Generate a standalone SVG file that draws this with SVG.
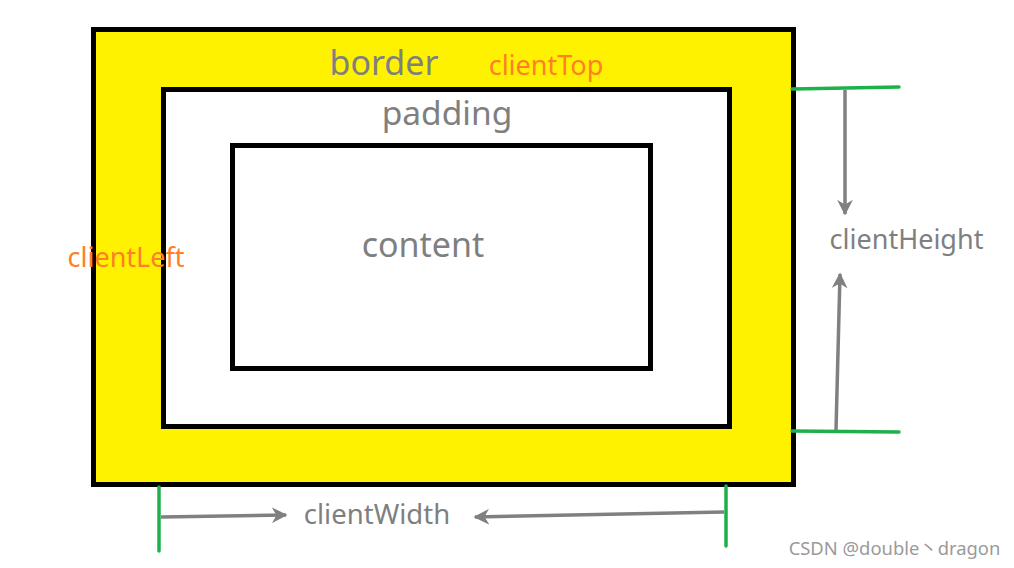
<svg xmlns="http://www.w3.org/2000/svg" width="1014" height="568" viewBox="0 0 1014 568">
<defs>
<marker id="ah" viewBox="0 0 10 10" refX="9" refY="5" markerWidth="4.5" markerHeight="4.5" markerUnits="strokeWidth" orient="auto">
<path d="M0,0 L10,5 L0,10 L3,5 z" fill="#808080"/>
</marker>
<style>
.box{stroke:#000;stroke-width:5}
.lbl{font-family:"Noto Sans","Open Sans",sans-serif;fill:#7f7f7f}
.org{font-family:"Noto Sans","Open Sans",sans-serif;fill:#ff7f27}
.g{stroke:#1db14b;stroke-width:3.5;stroke-linecap:round;fill:none}
.a{stroke:#808080;stroke-width:3.5;fill:none;marker-end:url(#ah)}
</style>
</defs>
<rect width="1014" height="568" fill="#fff"/>
<g id="border">
<rect class="box" x="93.5" y="29.5" width="700" height="455" fill="#fff200"/>
<text class="lbl" x="384" y="75" font-size="34" text-anchor="middle">border</text>
</g>
<g id="padding">
<rect class="box" x="163.5" y="89.5" width="566" height="337" fill="#fff"/>
<text class="lbl" x="447" y="125" font-size="33.5" text-anchor="middle">padding</text>
</g>
<g id="content">
<rect class="box" x="232.5" y="145.5" width="418" height="223" fill="#fff"/>
<text class="lbl" x="423" y="257" font-size="34" text-anchor="middle">content</text>
</g>
<g id="clientTop"><text class="org" x="546" y="75" font-size="27" text-anchor="middle">clientTop</text></g>
<g id="clientLeft"><text class="org" x="126" y="267" font-size="27" text-anchor="middle">clientLeft</text></g>
<g id="clientHeight"><text class="lbl" x="906.5" y="249" font-size="27" text-anchor="middle">clientHeight</text></g>
<g id="clientWidth"><text class="lbl" x="377" y="524" font-size="27.5" text-anchor="middle">clientWidth</text></g>
<g id="connectors">
<path class="g" d="M792,89 L899,87"/>
<path class="g" d="M792,431 L899,432"/>
<path class="g" d="M159,487 L159,551"/>
<path class="g" d="M726,486 L726,546"/>
<path class="a" d="M845,90 L845,214"/>
<path class="a" d="M836,430 L840,274"/>
<path class="a" d="M161,517 L286,515"/>
<path class="a" d="M724,512 L475,517"/>
</g>
<text x="894.5" y="555" font-family="'Noto Sans','Noto Sans CJK SC',sans-serif" font-size="18.4" fill="#9a9a9a" text-anchor="middle">CSDN @double丶dragon</text>
</svg>
